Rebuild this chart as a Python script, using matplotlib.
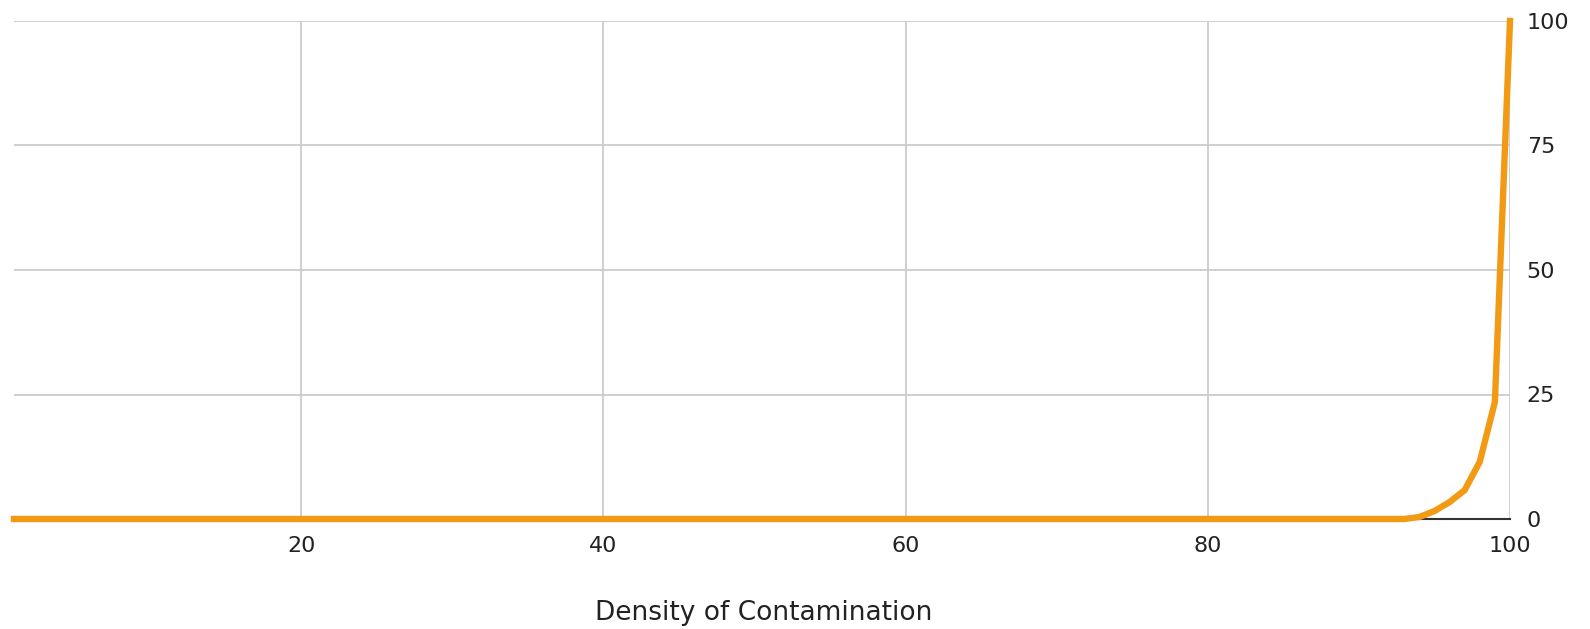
import matplotlib
matplotlib.use("Agg")
import matplotlib.pyplot as plt
import numpy as np

plt.rcParams['font.family'] = ['DejaVu Sans']

# Data
x_vals = list(range(1, 101))
tail = {93: 0.0, 94: 0.4, 95: 1.6, 96: 3.4, 97: 5.8, 98: 11.5, 99: 23.5, 100: 100.0}
y_vals = [tail.get(v, 0.0) for v in x_vals]
x_ticks = [20, 40, 60, 80, 100]
y_ticks = [0, 25, 50, 75, 100]
x_label = "Density of Contamination"

W, H = 1590, 629
fig = plt.figure(figsize=(W / 100, H / 100), dpi=100)
left, right, top, bottom = 14, 1510, 21, 519
ax = fig.add_axes([left / W, 1 - bottom / H, (right - left) / W, (bottom - top) / H])

ax.set_xlim(1, 100)
ax.set_ylim(0, 100)
ax.set_xticks(x_ticks)
ax.set_yticks(y_ticks)
ax.grid(True, color='#cccccc', linewidth=1.3)
ax.set_axisbelow(True)
for s in ['left', 'top', 'right']:
    ax.spines[s].set_visible(False)
ax.spines['bottom'].set_color('#333333')
ax.spines['bottom'].set_linewidth(1.5)
ax.spines['bottom'].set_zorder(1)

ax.plot(x_vals, y_vals, color='#f39a14', linewidth=4.6, solid_joinstyle='miter',
        clip_on=False, zorder=3)

ax.yaxis.tick_right()
ax.tick_params(axis='both', length=0, labelsize=16, labelcolor='#222222')
ax.tick_params(axis='y', pad=12)
ax.tick_params(axis='x', pad=12)

ax.set_xlabel(x_label, fontsize=19, color='#222222')
ax.xaxis.set_label_coords((764 - left) / (right - left), -(613 - bottom) / (bottom - top))
ax.xaxis.label.set_va('center')

fig.savefig('out.png', dpi=100, facecolor='white')
